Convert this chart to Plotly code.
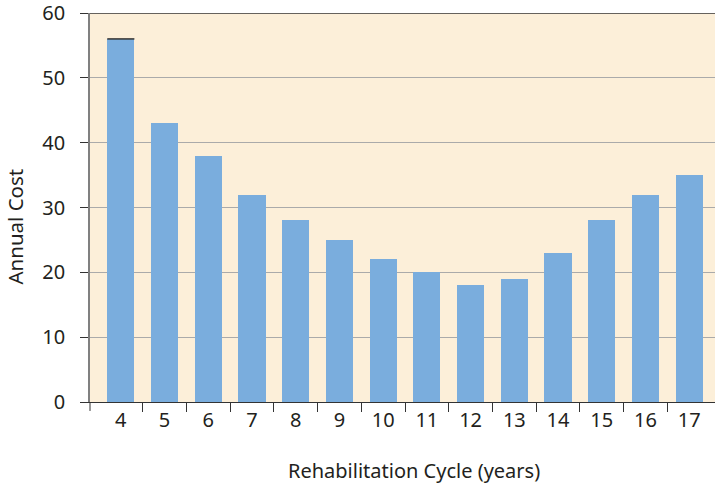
import plotly.graph_objects as go

years = [4, 5, 6, 7, 8, 9, 10, 11, 12, 13, 14, 15, 16, 17]
annual_cost = [56, 43, 38, 32, 28, 25, 22, 20, 18, 19, 23, 28, 32, 35]
y_ticks = [0, 10, 20, 30, 40, 50, 60]
boundaries = [y + 0.5 for y in years[:-1]]

FONT = "Noto Sans"
TXT = "#231f20"
XRANGE = [3.295, 17.59]

fig = go.Figure()
fig.add_trace(go.Bar(
    x=years, y=annual_cost, width=0.62,
    marker=dict(color="#7aaddd", line=dict(width=0)),
))
# invisible trace to activate xaxis2 (boundary ticks)
fig.add_trace(go.Scatter(x=[years[0]], y=[0], xaxis="x2", mode="markers",
                         marker=dict(opacity=0), hoverinfo="skip"))

fig.update_layout(
    width=715, height=484,
    margin=dict(l=90, r=0, t=13, b=82, autoexpand=False),
    paper_bgcolor="white",
    plot_bgcolor="#fcefd9",
    showlegend=False,
    bargap=0,
    font=dict(family=FONT, size=20, color=TXT),
    xaxis=dict(
        range=XRANGE, automargin=False,
        tickmode="array", tickvals=years, ticktext=[str(v) for v in years],
        ticks="", showgrid=False, zeroline=False,
        showline=True, linecolor="#333333", linewidth=1,
        tickfont=dict(size=20), ticklabeloverflow="allow",
    ),
    xaxis2=dict(
        overlaying="x", anchor="y", range=XRANGE,
        tickmode="array", tickvals=boundaries, showticklabels=False,
        ticks="outside", ticklen=9, tickcolor="#333333", tickwidth=1,
        showgrid=False, zeroline=False, showline=False, automargin=False,
    ),
    yaxis=dict(
        range=[0, 60], automargin=False,
        tickmode="array", tickvals=y_ticks,
        ticks="outside", ticklen=8, tickcolor="#333333", tickwidth=1,
        showgrid=True, gridcolor="#aaaaaa", gridwidth=1,
        zeroline=False, showline=True, linecolor="#808080", linewidth=1.5,
        tickfont=dict(size=20), ticklabelstandoff=11,
        ticklabeloverflow="allow",
    ),
)

# axis titles
fig.add_annotation(text="Annual Cost", xref="paper", yref="paper",
                   x=0, y=0.451, xshift=-75, textangle=-90, showarrow=False,
                   xanchor="center", yanchor="middle", font=dict(size=20.5))
fig.add_annotation(text="Rehabilitation Cycle (years)", xref="paper", yref="paper",
                   x=0.518, y=0, yshift=-68, showarrow=False,
                   xanchor="center", yanchor="middle", font=dict(size=20))
# dark top frame line at 60
fig.add_shape(type="line", xref="paper", yref="y", x0=0, x1=1, y0=60, y1=60,
              line=dict(color="#333333", width=1.5))
# dark line at top of first bar
fig.add_shape(type="line", xref="x", yref="y", x0=4 - 0.31, x1=4 + 0.31,
              y0=annual_cost[0], y1=annual_cost[0],
              line=dict(color="#333333", width=1.5))
# corner tick at the axis origin
fig.add_shape(type="line", xref="paper", yref="paper", x0=0, x1=0, y0=0, y1=-0.023,
              line=dict(color="#333333", width=1))

fig.write_html("out.html", config={"displayModeBar": False},
               post_script="document.body.style.margin='0';")
